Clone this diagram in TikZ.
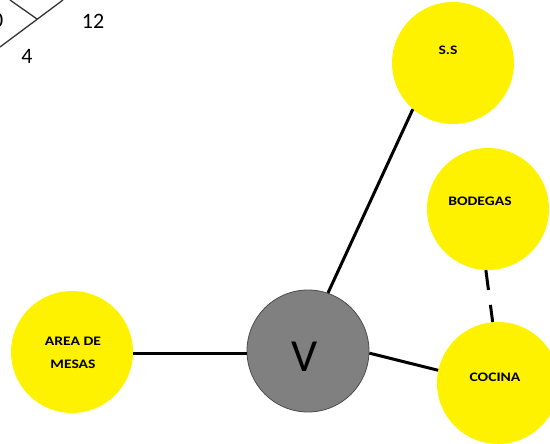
\documentclass[tikz,border=0pt]{standalone}
\usepackage{fontspec}
\setmainfont{Carlito}
\newfontfamily\labfont[FakeStretch=1.2]{Carlito}
\begin{document}
\begin{tikzpicture}[x=1pt,y=-1pt,
  place/.style={circle,fill=yellow,inner sep=0pt,minimum size=122pt},
  hub/.style={circle,fill=gray!100!black,draw=black!70,line width=0.8pt,inner sep=0pt,minimum size=122pt},
  lab/.style={inner sep=0pt,align=center,font=\labfont\fontsize{13}{22.5}\selectfont\bfseries},
  vlab/.style={inner sep=0pt,font=\fontsize{46}{46}\selectfont},
  link/.style={line width=3pt,black},
  thin/.style={line width=1.3pt,black!80},
  num/.style={inner sep=0pt,font=\fontsize{22}{22}\selectfont}]
\useasboundingbox (0,0) rectangle (550,444);
\begin{scope}
\clip (0,0) rectangle (550,444);
% top-left fragment
\coordinate (xc) at (37,19);
\coordinate (xa) at (10,0);
\coordinate (xb) at (63,0);
\coordinate (xd) at (0,47);
\draw[thin] (xa) -- (xc);
\draw[thin] (xb) -- (xd);
\node[num,anchor=east] (zero) at (3.5,20) {0};
\node[num] (twelve) at (93,21) {12};
\node[num] (four) at (27,56) {4};
% places
\node[place] (ss) at (453,63) {};
\node[place] (bod) at (488,209) {};
\node[place] (coc) at (498,383) {};
\node[place] (mesas) at (72,352) {};
\node[hub] (v) at (308,351) {};
\node[lab] (ssT) at (448,50.5) {S.S};
\node[lab] (bodT) at (480,201) {BODEGAS};
\node[lab] (cocT) at (495,377) {COCINA};
\node[lab] (mesasT) at (73,353) {AREA DE\\MESAS};
\node[vlab] (vT) at (305,357) {V};
\draw[link] (mesas.east |- 0,353) -- (v.west |- 0,353);
\draw[link] (v.71.6) -- (ss.229);
\draw[link] (v.-2.8) -- (coc.168);
\draw[link,dash pattern=on 20pt off 15pt] (bod.-92) -- (coc.95);
\end{scope}
\end{tikzpicture}
\end{document}
